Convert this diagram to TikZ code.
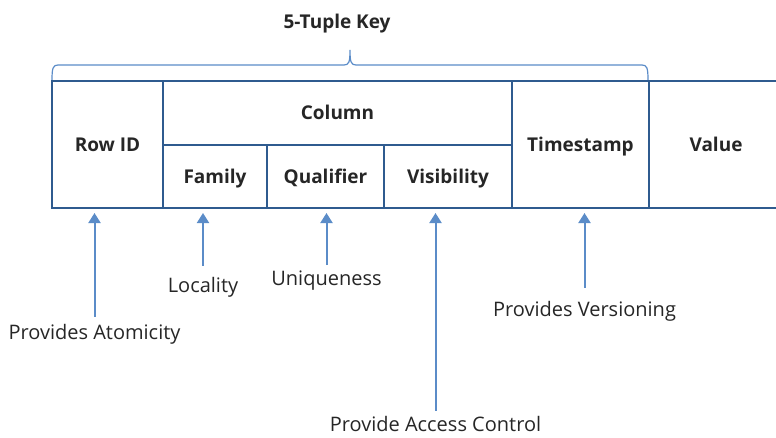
\documentclass[tikz,border=0pt]{standalone}
\usepackage{fontspec}
\setmainfont{Open Sans}
\usepackage{xcolor}
\definecolor{cellBlue}{HTML}{2F5B8F}
\definecolor{arrowBlue}{HTML}{5B8CC8}
\definecolor{textGray}{HTML}{262626}
\usetikzlibrary{arrows.meta}

\begin{document}
\begin{tikzpicture}[
    x=1pt, y=-1pt,
    cell/.style={draw=cellBlue, line width=2pt, inner sep=0pt, outer sep=0pt,
        font=\fontsize{19}{23}\selectfont\bfseries, text=textGray,
        text height=13.6pt, text depth=0pt},
    note/.style={font=\fontsize{20}{24}\selectfont, text=textGray, anchor=base, inner sep=2pt},
    arr/.style={-{Triangle[width=12pt,length=10pt]}, line width=2pt, arrowBlue, shorten >=5pt},
    brace/.style={draw=arrowBlue, line width=1.2pt},
]
\useasboundingbox (0,0) rectangle (776,437);

% Key
\node[font=\fontsize{19}{23}\selectfont\bfseries, text=textGray] (keylabel) at (337,24) {5-Tuple Key};
\draw[brace] (52,80) .. controls (52,68) and (53,65) .. (58,65) -- (344,65)
    .. controls (349,65) and (350,62) .. (350,50)
    .. controls (350,62) and (351,65) .. (356,65) -- (642,65)
    .. controls (647,65) and (648,68) .. (648,80);

% Cells
\node[cell, minimum width=111pt, minimum height=127pt] (rowid) at (107.5,144.5) {Row ID};
\node[cell, minimum width=349pt, minimum height=64pt] (column) at (337.5,113) {Column};
\node[cell, minimum width=104pt, minimum height=63pt] (family) at (215,176.5) {Family};
\node[cell, minimum width=117pt, minimum height=63pt] (qualifier) at (325.5,176.5) {Qualifier};
\node[cell, minimum width=128pt, minimum height=63pt] (visibility) at (448,176.5) {Visibility};
\node[cell, minimum width=137pt, minimum height=127pt] (timestamp) at (580.5,144.5) {Timestamp};
\node[cell, draw=none] (value) at (716,144.5) {Value};
\coordinate (topend) at (777,81);
\coordinate (botend) at (777,208);
\draw[cellBlue, line width=2pt] (timestamp.north east) -- (topend);
\draw[cellBlue, line width=2pt] (timestamp.south east) -- (botend);

% Notes
\node[note] (atomicity) at (94.5,339) {Provides Atomicity};
\node[note] (locality) at (203,292) {Locality};
\node[note] (uniqueness) at (326.5,285) {Uniqueness};
\node[note] (access) at (435.5,431) {Provide Access Control};
\node[note] (versioning) at (584.5,316) {Provides Versioning};

% Arrows
\draw[arr, shorten <=5pt] (atomicity.north) -- (atomicity.north |- rowid.south);
\draw[arr, shorten <=9pt] (locality.north) -- (locality.north |- family.south);
\draw[arr, shorten <=3pt] (uniqueness.north) -- (uniqueness.north |- qualifier.south);
\draw[arr, shorten <=3pt] (access.north) -- (access.north |- visibility.south);
\draw[arr, shorten <=11pt] (versioning.north) -- (versioning.north |- timestamp.south);

\end{tikzpicture}
\end{document}
